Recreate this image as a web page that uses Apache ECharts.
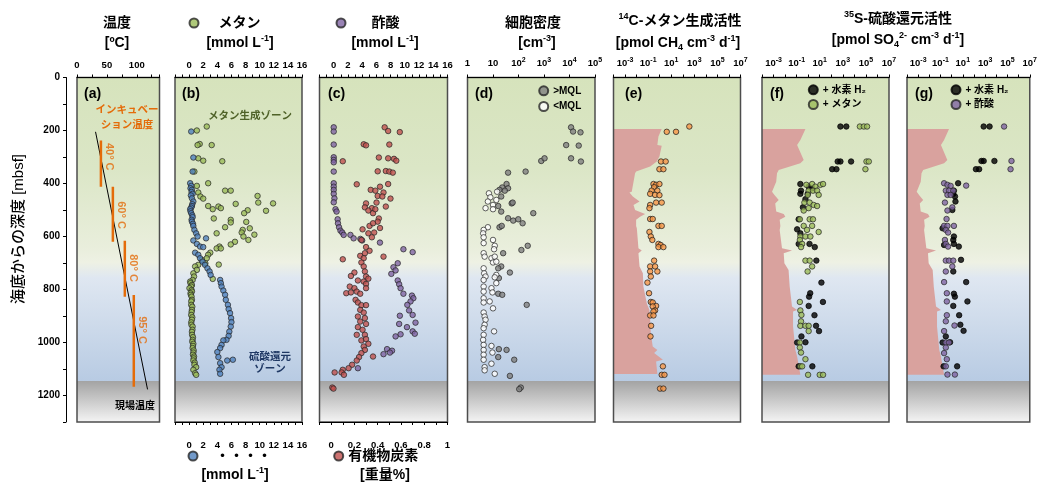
<!DOCTYPE html>
<html><head><meta charset="utf-8">
<script src="https://cdn.jsdelivr.net/npm/echarts@6/dist/echarts.min.js"></script>
<style>html,body{margin:0;padding:0;background:#fff}#c{width:1040px;height:485px}</style>
</head><body><div id="c"></div>
<script>
// ---------------- DATA ----------------
// panel (a): temperature [°C] vs depth [mbsf]
const inSituTemp = [[31, 205], [118, 1177]];
const incubTemps = [40, 60, 80, 95];
const incubTop = [238, 412, 616, 821];
const incubBottom = [412, 620, 827, 1167];
const incubLabelDepth = [299, 519, 719, 953];

// panel (b): methane & sulfate [mmol/L]
const methane = [[2.5,185],[1.1,200],[1.5,251],[1.2,255],[3.2,255],[1.3,305],[2.0,314],[4.7,316],[0.75,355],[2.7,399],[1.1,409],[5.1,427],[5.9,427],[1.3,434],[9.7,447],[1.6,449],[2.0,457],[9.8,472],[11.9,475],[6.6,477],[2.7,485],[4.15,487],[4.5,493],[3.35,497],[8.3,501],[10.9,503],[7.8,512],[3.5,532],[5.9,537],[8.1,545],[5.9,547],[5.1,565],[8.6,569],[7.6,575],[7.45,585],[3.9,588],[9.25,593],[7.7,600],[8.4,613],[6.5,620],[5.9,630],[4.3,638],[3.9,645],[4.5,645],[3.0,661],[2.7,669],[2.5,682],[1.8,688],[2.3,701],[4.2,706],[1.3,707],[0.85,713],[1.1,726],[0.6,739],[0.7,751],[3.35,760],[0.5,764],[0.15,770],[0.2,776],[0.4,783],[0.3,789],[0.05,795],[0.35,802],[0.4,808],[0.2,814],[0.25,820],[0.35,827],[0.4,839],[0.3,845],[0.3,858],[0.45,865],[0.4,877],[0.35,885],[0.3,896],[0.45,905],[0.4,914],[0.3,924],[0.33,933],[0.5,940],[0.47,952],[0.4,960],[0.42,971],[0.55,980],[0.5,990],[0.45,997],[0.6,1005],[0.55,1013],[0.5,1021],[0.65,1030],[0.6,1038],[0.55,1046],[0.7,1053],[0.65,1060],[0.6,1068],[0.8,1076],[0.75,1084],[1.0,1093],[0.6,1103],[0.85,1116],[1.0,1122]];
const sulfate = [[0.3,204],[0.6,302],[0.5,355],[0.15,399],[0.3,409],[0.2,418],[0.4,424],[0.35,432],[0.5,439],[0.25,445],[0.4,456],[0.6,468],[0.45,478],[0.4,485],[0.3,491],[0.15,497],[0.2,505],[0.3,512],[0.45,520],[0.5,527],[0.35,537],[0.4,544],[0.55,552],[0.6,560],[0.75,575],[1.0,588],[1.2,600],[2.4,607],[0.6,615],[1.1,628],[1.55,638],[2.0,640],[0.85,661],[1.3,669],[1.55,682],[1.9,695],[2.25,707],[2.6,720],[2.9,732],[3.05,745],[4.4,764],[4.5,776],[4.6,789],[4.85,804],[5.1,820],[5.2,839],[5.5,858],[5.6,874],[5.8,889],[5.95,908],[6.0,923],[5.9,940],[5.7,959],[5.6,975],[5.3,990],[4.85,992],[4.6,1009],[4.4,1021],[4.0,1036],[4.15,1055],[6.2,1065],[5.4,1068],[4.4,1078],[4.6,1093],[4.3,1103],[4.4,1118]];

// panel (c): acetate [mmol/L] & organic carbon [wt%]
const acetate = [[0,188],[0,204],[0,253],[0,301],[0,311],[0,320],[0,355],[0,399],[0,412],[0,424],[0,439],[0.1,456],[0,471],[0.25,497],[0.4,506],[0.55,535],[0.6,550],[0.75,565],[0.95,578],[1.2,585],[1.4,594],[2.35,594],[2.8,607],[3.75,609],[4.0,615],[6.5,623],[9.8,648],[11.1,659],[9.0,701],[8.4,716],[8.7,728],[8.1,741],[9.0,766],[9.2,780],[9.4,795],[9.8,816],[11.0,823],[11.2,833],[10.8,845],[10.35,858],[10.6,879],[11.1,896],[9.3,899],[11.5,925],[9.2,930],[10.3,942],[11.1,958],[11.4,967],[9.4,969],[8.7,977],[7.5,1025],[8.2,1031],[7.9,1038],[7.0,1044],[3.4,1097]];
const organicC = [[0.46,188],[0.49,202],[0.59,206],[0.28,252],[0.3,256],[0.5,253],[0.1,316],[0.41,302],[0.49,305],[0.54,307],[0.56,314],[0.4,354],[0.47,353],[0.5,355],[0.53,359],[0.22,403],[0.34,424],[0.38,427],[0.42,412],[0.49,402],[0.45,434],[0.4,447],[0.44,449],[0.51,457],[0.3,475],[0.39,472],[0.47,487],[0.29,490],[0.35,493],[0.32,502],[0.36,512],[0.38,497],[0.41,532],[0.4,544],[0.33,560],[0.36,550],[0.42,568],[0.27,573],[0.32,588],[0.37,585],[0.35,603],[0.26,613],[0.3,640],[0.33,654],[0.29,663],[0.25,673],[0.28,682],[0.1,686],[0.45,676],[0.26,698],[0.28,713],[0.29,732],[0.2,736],[0.17,749],[0.3,751],[0.23,766],[0.28,770],[0.32,759],[0.3,779],[0.16,789],[0.2,795],[0.3,795],[0.13,814],[0.17,811],[0.22,808],[0.25,816],[0.21,839],[0.23,849],[0.26,859],[0.3,859],[0.25,877],[0.28,887],[0.23,902],[0.29,908],[0.25,921],[0.3,930],[0.23,942],[0.27,952],[0.22,971],[0.29,971],[0.26,992],[0.3,987],[0.32,1005],[0.28,1015],[0.29,1028],[0.26,1040],[0.36,1053],[0.24,1055],[0.22,1068],[0.18,1084],[0.15,1097],[0.1,1103],[0.09,1113],[0.11,1122],[0.03,1113],[0.01,1170],[0.02,1174]];

// panel (d): cell density [cm^-3]
const cellsAboveMQL = [[11500,188],[13800,204],[27000,207],[7400,255],[23000,257],[11500,305],[28000,317],[780,315],[1050,305],[39,359],[190,355],[34,402],[23,415],[39,418],[18,424],[29,427],[21,449],[54,475],[59,472],[16,485],[21,506],[380,512],[39,531],[62,540],[98,535],[145,550],[18,565],[22,560],[130,651],[230,635],[25,663],[21,713],[16,720],[46,736],[17,757],[16,816],[23,820],[210,858],[17,1025],[34,1028],[16,1055],[68,1065],[46,1126],[123,1170],[107,1176]];
const cellsBelowMQL = [[6.9,437],[7.9,452],[6.3,468],[10,481],[5.1,493],[10,497],[13.5,462],[14.5,431],[6.3,565],[4.3,575],[4.1,588],[4.3,603],[4.3,625],[10,613],[11.7,635],[11,648],[4.3,663],[4.7,676],[8.7,682],[11.7,676],[10,698],[13.5,695],[4.3,720],[4.5,739],[5.1,751],[13.5,745],[11.7,754],[4.3,764],[13.5,776],[4.3,789],[8.7,795],[4.3,808],[9.5,811],[4.3,833],[7.4,845],[4.3,849],[10,871],[4.3,887],[4.7,902],[5.1,914],[4.7,933],[11,958],[4.3,946],[4.3,971],[4.1,990],[4.3,1009],[8.7,1013],[9.5,1038],[4.3,1028],[4.3,1046],[4.3,1065],[8.7,1080],[4.7,1093],[4.7,1105],[11.7,1118]];

// panel (e): 14C methanogenesis [pmol CH4 cm^-3 d^-1] and detection limit
const methanogenesis = [[370,185],[4.1,205],[26,205],[1.3,317],[3.3,317],[0.95,346],[2.1,346],[0.29,402],[0.49,405],[0.95,402],[0.33,414],[0.63,427],[0.2,427],[0.15,439],[0.4,443],[0.95,444],[0.49,472],[1.5,472],[0.15,481],[0.13,493],[0.15,534],[0.25,534],[0.78,560],[1.5,560],[0.13,583],[0.17,600],[0.23,613],[0.78,628],[1.2,632],[0.78,640],[2.1,640],[0.33,691],[0.15,713],[0.4,713],[0.63,732],[0.15,732],[0.17,751],[0.087,774],[0.12,814],[0.17,847],[0.25,849],[0.49,862],[0.25,864],[0.4,879],[0.29,883],[0.15,898],[0.29,898],[0.18,937],[0.16,977],[1.9,1090],[1.5,1122],[2.6,1122],[1.07,1174],[2.1,1174]];
const detLimitE = [[1.5,194],[0.78,223],[0.63,255],[1.5,258],[0.95,298],[0.56,317],[0.15,336],[0.0091,355],[0.0074,361],[0.0038,431],[0.0024,434],[0.0047,449],[0.018,468],[0.0054,481],[0.0074,500],[0.055,515],[0.02,525],[0.0091,537],[0.0091,560],[0.0105,569],[0.0145,644],[0.028,653],[0.0145,663],[0.018,713],[0.035,739],[0.039,789],[0.076,852],[0.13,877],[0.15,914],[0.17,965],[0.25,1015],[0.63,1028],[0.33,1040],[1.9,1065],[0.49,1072],[0.63,1119]];

// panels (f),(g): 35S sulfate reduction [pmol SO4 cm^-3 d^-1] and detection limit
const detLimitFG = [[0.58,194],[0.21,236],[0.11,255],[0.41,311],[0.21,324],[0.0028,349],[0.002,361],[0.0017,393],[0.00074,431],[0.0012,443],[0.0028,462],[0.0014,475],[0.0017,506],[0.0076,515],[0.0105,525],[0.0034,537],[0.0039,560],[0.0034,575],[0.0054,644],[0.04,653],[0.0076,663],[0.0087,701],[0.02,726],[0.025,789],[0.04,864],[0.11,877],[0.049,883],[0.049,940],[0.078,1028],[0.11,1053],[0.21,1122]];
const srH2F = [[620,185],[2000,185],[360,317],[620,317],[5200,317],[120,346],[280,346],[0.21,402],[1.1,412],[2.2,418],[0.24,427],[0.21,439],[0.91,439],[0.58,459],[0.35,490],[0.15,535],[0.11,573],[0.21,588],[1.3,628],[0.15,628],[3.7,640],[5.1,691],[14,774],[1.5,814],[1.2,827],[19,847],[1.1,862],[3.5,897],[4.8,937],[8.7,957],[0.26,977],[0.11,1000],[0.58,999],[0.15,1090],[2.3,1090]];
const srMethaneF = [[30000,185],[66000,185],[126000,185],[112000,317],[178000,317],[91000,346],[0.69,405],[2.2,402],[4.2,412],[11.5,405],[19.5,402],[1.1,427],[2.6,427],[5.9,427],[0.91,443],[8.1,443],[0.47,472],[1.35,472],[3.0,481],[5.9,485],[1.1,493],[0.41,502],[0.19,535],[1.35,535],[2.6,535],[0.41,560],[2.2,560],[0.79,575],[0.21,600],[0.58,600],[1.55,600],[8.1,583],[0.19,613],[0.3,628],[0.24,640],[0.58,691],[1.35,691],[2.2,713],[0.89,732],[0.19,847],[0.21,879],[0.26,896],[0.24,920],[0.21,937],[0.58,937],[1.1,937],[1.1,957],[0.19,1000],[0.19,1019],[0.24,1038],[0.58,1063],[0.21,1090],[0.3,1090],[0.98,1122],[10,1122],[19.5,1122]];
const srH2G = [[740,185],[2500,185],[470,315],[740,315],[6800,315],[150,346],[290,346],[3.8,399],[1.6,427],[1.4,439],[2.0,449],[2.2,468],[1.15,500],[0.155,569],[1.6,600],[1.4,613],[1.6,628],[4.4,638],[0.21,632],[6.9,688],[1.4,732],[20,772],[1.6,816],[1.95,827],[26,845],[1.4,862],[4.7,897],[6.0,933],[11.7,956],[0.3,977],[0.155,1000],[0.72,999],[0.19,1090],[3.1,1090]];
const srAcetateG = [[50000,185],[230000,315],[190000,346],[0.21,399],[0.42,405],[0.81,409],[20,408],[0.3,427],[0.59,427],[1.4,427],[0.42,443],[0.81,443],[0.25,472],[1.15,490],[0.42,502],[0.35,534],[0.21,560],[0.42,560],[1.6,560],[0.3,575],[0.48,585],[0.25,613],[0.3,628],[0.48,638],[0.3,691],[0.59,691],[1.4,691],[1.15,713],[0.3,732],[0.21,772],[0.37,814],[0.37,845],[0.37,897],[0.3,920],[1.8,936],[0.21,957],[0.3,1000],[0.59,1000],[0.3,1019],[0.21,1040],[0.37,1063],[0.3,1090],[0.42,1121],[1.95,1121]];

// zones / tick labels
const depthRange = [0, 1300];
const basementTop = 1145;
const logLabelExps = [-3, -1, 1, 3, 5, 7];
const cellLabelExps = [0, 1, 2, 3, 4, 5];

// ---------------- STYLE / LAYOUT ----------------
const FONT = '"Liberation Sans", Arial, "Noto Sans CJK JP", sans-serif';
const TOP = 77.5, HEIGHT = 344.5;
const gridLefts = [77, 175, 319.5, 467.5, 613.5, 762, 907];
const gridWidths = [82.5, 127, 128, 127.5, 127, 127, 126.5];
const C = {green:'#9bbb59', blue:'#4f81bd', purple:'#8064a2', red:'#c0504d', grey:'#7f7f7f', orange:'#f79646', incub:'#e46c0a', pink:'#d9a29e'};
const SYM = 5.5;

const RICH_AX = {
  b: {fontSize: 9.5, fontWeight: 'bold', fontFamily: FONT, color: '#000', lineHeight: 14},
  s: {fontSize: 7, fontWeight: 'bold', fontFamily: FONT, color: '#000', lineHeight: 7, verticalAlign: 'top'}
};

const bgArea = {
  silent: true, z: 1, label: {show: false}, emphasis: {disabled: true},
  data: [
    [{yAxis: depthRange[0], itemStyle: {color: {type: 'linear', x: 0, y: 0, x2: 0, y2: 1, colorStops: [
      {offset: 0, color: '#d6e3bc'}, {offset: 0.3, color: '#dbe6c6'}, {offset: 0.56, color: '#e9eedc'},
      {offset: 0.61, color: '#eef1e4'}, {offset: 0.66, color: '#dfe7f1'}, {offset: 1, color: '#b8cbe3'}]}}},
     {yAxis: basementTop}],
    [{yAxis: basementTop, itemStyle: {color: {type: 'linear', x: 0, y: 0, x2: 0, y2: 1, colorStops: [
      {offset: 0, color: '#a3a3a3'}, {offset: 1, color: '#f4f4f4'}]}}},
     {yAxis: depthRange[1]}]
  ]
};

function xa(o, fmt, margin) {
  return Object.assign({
    type: 'value', z: 12, position: 'top',
    axisLine: {show: true, onZero: false, lineStyle: {color: '#000', width: 1}},
    axisTick: {show: true, length: 3, inside: false, lineStyle: {color: '#000', width: 1}},
    splitLine: {show: false},
    axisLabel: {fontSize: 9.5, fontWeight: 'bold', color: '#000', fontFamily: FONT, margin: margin || 7,
                formatter: fmt, rich: RICH_AX, showMinLabel: true, showMaxLabel: true}
  }, o);
}
const hiddenLog = (gi, min, max) => ({type: 'log', logBase: 10, gridIndex: gi, min, max, show: false, position: 'top'});
const evenFmt = v => (v >= 0 && Math.round(v) % 2 === 0) ? String(Math.round(v)) : '';
const pow10Fmt = v => {
  const e = Math.round(v);
  if (logLabelExps.indexOf(e) < 0) return '';
  return '{b|10}{s|' + e + '}';
};
const cellFmt = v => {
  const e = Math.round(v);
  if (cellLabelExps.indexOf(e) < 0) return '';
  if (e === 0) return '{b|1}';
  if (e === 1) return '{b|10}';
  return '{b|10}{s|' + e + '}';
};
const tocFmt = v => {
  const r = Math.round(v * 10);
  if (r < 0 || r % 2) return '';
  if (r === 0) return '0';
  if (r === 10) return '1';
  return (r / 10).toFixed(1);
};

const xAxis = [
  xa({gridIndex: 0, min: 0, max: 138, interval: 25}, v => (v % 50 === 0 && v <= 100) ? String(v) : ''), // 0
  xa({gridIndex: 1, min: -2, max: 16, interval: 1}, evenFmt),            // 1
  xa({gridIndex: 1, min: -2, max: 16, interval: 1, position: 'bottom'}, evenFmt, 19), // 2
  xa({gridIndex: 2, min: -2, max: 16, interval: 1}, evenFmt),            // 3
  xa({gridIndex: 2, min: -0.1, max: 1, interval: 0.1, position: 'bottom'}, tocFmt, 19), // 4
  hiddenLog(3, 1, 1e5),                                                  // 5
  xa({gridIndex: 3, min: 0, max: 5, interval: 1}, cellFmt),              // 6
  hiddenLog(4, 1e-4, 1e7),                                               // 7
  xa({gridIndex: 4, min: -4, max: 7, interval: 1}, pow10Fmt),            // 8
  hiddenLog(5, 1e-4, 1e7),                                               // 9
  xa({gridIndex: 5, min: -4, max: 7, interval: 1}, pow10Fmt),            // 10
  hiddenLog(6, 1e-4, 1e7),                                               // 11
  xa({gridIndex: 6, min: -4, max: 7, interval: 1}, pow10Fmt)             // 12
];

const yAxis = gridLefts.map((l, i) => ({
  gridIndex: i, type: 'value', inverse: true, min: depthRange[0], max: depthRange[1], interval: 100,
  show: i === 0, offset: 11, z: 12,
  axisLine: {show: true, onZero: false, lineStyle: {color: '#000', width: 1}},
  axisTick: {show: true, length: 3, lineStyle: {color: '#000'}},
  splitLine: {show: false},
  axisLabel: {fontSize: 10, fontWeight: 'bold', color: '#000', fontFamily: FONT, margin: 6,
              formatter: v => (v % 200 === 0 && v < 1300) ? String(v) : ''}
}));

const grid = gridLefts.map((l, i) => ({
  left: l, top: TOP, width: gridWidths[i], height: HEIGHT, show: true, z: 10,
  backgroundColor: 'transparent', borderColor: '#4d4d4d', borderWidth: 1.5
}));

function sc(name, data, xi, yi, color, border, withBg, size) {
  const s = {type: 'scatter', name, data, xAxisIndex: xi, yAxisIndex: yi, symbol: 'circle',
    symbolSize: size || SYM, z: 5, silent: true,
    itemStyle: {color, borderColor: border || '#262626', borderWidth: 0.9}};
  if (withBg) s.markArea = bgArea;
  return s;
}
function dlSeries(pts, xi, yi) {
  return {type: 'custom', xAxisIndex: xi, yAxisIndex: yi, z: 3, silent: true, data: pts,
    encode: {x: 0, y: 1},
    renderItem: (params, api) => {
      if (params.dataIndex !== 0) return null;
      const poly = [api.coord([1e-4, pts[0][1]])];
      pts.forEach(p => poly.push(api.coord(p)));
      poly.push(api.coord([1e-4, pts[pts.length - 1][1]]));
      return {type: 'polygon', shape: {points: poly}, style: {fill: C.pink}};
    }};
}

const series = [];
series.push({type: 'line', name: '現場温度', data: inSituTemp, xAxisIndex: 0, yAxisIndex: 0, showSymbol: false,
  symbol: 'none', z: 4, lineStyle: {color: '#000', width: 1}, markArea: bgArea, silent: true});
incubTemps.forEach((t, i) => series.push({type: 'line', data: [[t, incubTop[i]], [t, incubBottom[i]]],
  xAxisIndex: 0, yAxisIndex: 0, symbol: 'none', z: 4, silent: true, lineStyle: {color: C.incub, width: 2.5}}));
series.push({type: 'scatter', data: incubTemps.map((t, i) => [t, incubLabelDepth[i]]), xAxisIndex: 0, yAxisIndex: 0,
  symbolSize: 0, z: 6, silent: true,
  label: {show: true, position: 'right', distance: 8, rotate: -90, align: 'center', verticalAlign: 'middle',
    formatter: p => p.value[0] + '° C', color: C.incub, fontSize: 11, fontWeight: 'bold', fontFamily: FONT}});

series.push(sc('メタン', methane, 1, 1, C.green, null, true));
series.push(sc('・・・・', sulfate, 2, 1, C.blue));
series.push(sc('酢酸', acetate, 3, 2, C.purple, null, true));
series.push(sc('有機物炭素', organicC, 4, 2, C.red));
series.push(sc('>MQL', cellsAboveMQL, 5, 3, C.grey, null, true));
series.push(sc('<MQL', cellsBelowMQL, 5, 3, '#ffffff'));
series.push(dlSeries(detLimitE, 7, 4));
series.push(sc('activity-e', methanogenesis, 7, 4, C.orange, '#1a1a1a', true));
series.push(dlSeries(detLimitFG, 9, 5));
series.push(sc('f-h2', srH2F, 9, 5, '#000', '#000', true));
series.push(sc('f-ch4', srMethaneF, 9, 5, C.green));
series.push(dlSeries(detLimitFG, 11, 6));
series.push(sc('g-h2', srH2G, 11, 6, '#000', '#000', true));
series.push(sc('g-ac', srAcetateG, 11, 6, C.purple));

const legTxt = (size, pad) => ({fontSize: size, fontWeight: 'bold', fontFamily: FONT, color: '#000', padding: pad || 0});
const legBase = {itemWidth: 9, itemHeight: 9, selectedMode: false, icon: 'circle', padding: 0};
const legendNames = {'f-h2': '+ 水素 H₂', 'f-ch4': '+ メタン', 'g-h2': '+ 水素 H₂', 'g-ac': '+ 酢酸'};
const legend = [
  Object.assign({}, legBase, {data: ['メタン'], left: 188.5, top: 16, textStyle: legTxt(14, [0, 0, 0, 15])}),
  Object.assign({}, legBase, {data: ['酢酸'], left: 335.5, top: 16, textStyle: legTxt(14, [0, 0, 0, 21])}),
  Object.assign({}, legBase, {data: ['・・・・'], left: 187.5, top: 449, textStyle: legTxt(14, [0, 0, 0, 13])}),
  Object.assign({}, legBase, {data: ['有機物炭素'], left: 333.2, top: 449, textStyle: legTxt(14)}),
  Object.assign({}, legBase, {data: ['>MQL', '<MQL'], orient: 'vertical', left: 538.2, top: 85.3, itemGap: 4.7, textStyle: legTxt(10)}),
  Object.assign({}, legBase, {data: ['f-h2', 'f-ch4'], orient: 'vertical', left: 807.8, top: 84.3, itemGap: 3.7,
    formatter: n => legendNames[n], textStyle: legTxt(10)}),
  Object.assign({}, legBase, {data: ['g-h2', 'g-ac'], orient: 'vertical', left: 950.5, top: 84.3, itemGap: 3.7,
    formatter: n => legendNames[n], textStyle: legTxt(10)})
];

const RT = {
  sup: {fontSize: 9, fontWeight: 'bold', fontFamily: FONT, fill: '#000', verticalAlign: 'top', lineHeight: 10},
  sub: {fontSize: 9, fontWeight: 'bold', fontFamily: FONT, fill: '#000', verticalAlign: 'bottom', lineHeight: 12}
};
function txt(x, y, text, size, o) {
  o = o || {};
  const al = o.align || 'center';
  return {type: 'text', x, y, rotation: o.rotation || 0, silent: true, z: 100,
    style: {text, fill: o.color || '#000', fontSize: size, fontWeight: o.weight || 'bold', fontFamily: FONT,
      align: al, textAlign: al, verticalAlign: 'middle', textVerticalAlign: 'middle',
      lineHeight: o.lineHeight || Math.round(size * 1.3), rich: RT}};
}
const graphic = [
  txt(117, 23, '温度', 14), txt(117, 43, '[ºC]', 14),
  txt(240, 43, '[mmol L{sup|-1}]', 14),
  txt(385, 43, '[mmol L{sup|-1}]', 14),
  txt(533, 23, '細胞密度', 14), txt(537, 43, '[cm{sup|-3}]', 14),
  txt(680, 21, '{sup|14}C-メタン生成活性', 14),
  txt(678, 43, '[pmol CH{sub|4} cm{sup|-3} d{sup|-1}]', 14),
  txt(898, 19, '{sup|35}S-硫酸還元活性', 14),
  txt(898, 40, '[pmol SO{sub|4}{sup|2-} cm{sup|-3} d{sup|-1}]', 14),
  txt(235, 475, '[mmol L{sup|-1}]', 14),
  txt(385, 475, '[重量%]', 14),
  txt(84, 94.5, '(a)', 14, {align: 'left'}),
  txt(182, 94.5, '(b)', 14, {align: 'left'}),
  txt(328, 94.5, '(c)', 14, {align: 'left'}),
  txt(475, 94.5, '(d)', 14, {align: 'left'}),
  txt(625, 94.5, '(e)', 14, {align: 'left'}),
  txt(770, 94.5, '(f)', 14, {align: 'left'}),
  txt(915, 94.5, '(g)', 14, {align: 'left'}),
  txt(127, 110, 'インキュベー', 10.5, {color: C.incub}),
  txt(127, 125, 'ション温度', 10.5, {color: C.incub}),
  txt(135, 406, '現場温度', 10),
  txt(250, 116.5, 'メタン生成ゾーン', 10.5, {color: '#4f6228'}),
  txt(270, 357, '硫酸還元', 10.5, {color: '#1f3864'}),
  txt(270, 369.5, 'ゾーン', 10.5, {color: '#1f3864'}),
  txt(19, 229, '海底からの深度 [mbsf]', 15, {rotation: Math.PI / 2, weight: 500})
];

const chart = echarts.init(document.getElementById('c'), null, {renderer: 'canvas'});
chart.setOption({
  backgroundColor: '#ffffff',
  animation: false,
  textStyle: {fontFamily: FONT},
  grid, xAxis, yAxis, series, legend, graphic
});
</script></body></html>
